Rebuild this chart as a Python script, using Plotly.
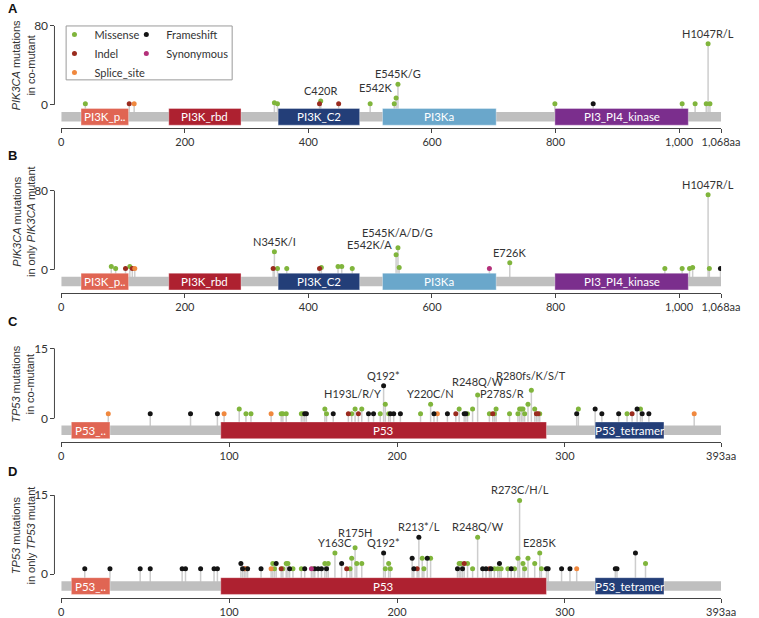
import plotly.graph_objects as go

W, H = 759, 618

# ---------------- data ----------------
PIK3CA_LENGTH = 1068
TP53_LENGTH = 393

PIK3CA_DOMAIN_NAMES = ["PI3K_p..", "PI3K_rbd", "PI3K_C2", "PI3Ka", "PI3_PI4_kinase"]
PIK3CA_DOMAIN_START = [32, 174, 351, 520, 799]
PIK3CA_DOMAIN_END = [109, 291, 483, 704, 1015]

TP53_DOMAIN_NAMES = ["P53_..", "P53", "P53_tetramer"]
TP53_DOMAIN_START = [6, 95, 318]
TP53_DOMAIN_END = [29, 289, 359]

PIK3CA_XTICKS = [0, 200, 400, 600, 800, 1000, 1068]
PIK3CA_XTICKTEXT = ["0", "200", "400", "600", "800", "1,000", "1,068aa"]
TP53_XTICKS = [0, 100, 200, 300, 393]
TP53_XTICKTEXT = ["0", "100", "200", "300", "393aa"]

MUT_TYPES = ["Missense", "Indel", "Splice_site", "Frameshift", "Synonymous"]
TYPE_CODES = {"M": "Missense", "I": "Indel", "S": "Splice_site", "F": "Frameshift", "Y": "Synonymous"}

# Panel A: PIK3CA mutations in co-mutant
A_POS = [39, 110, 118, 345, 350, 418, 420, 449, 500, 539, 542, 545, 799, 861, 1005, 1026, 1044, 1047, 1050]
A_CNT = [1, 1, 1, 2, 1, 1, 4, 1, 1, 1, 7, 21, 1, 1, 1, 1, 1, 62, 1]
A_TYPE = ["M", "I", "S", "M", "M", "I", "M", "I", "M", "M", "M", "M", "M", "F", "M", "M", "M", "M", "M"]
A_LABELS = ["C420R", "E542K", "E545K/G", "H1047R/L"]
A_LABEL_POS = [420, 542, 545, 1047]

# Panel B: PIK3CA mutations in only PIK3CA mutant
B_POS = [81, 88, 104, 111, 115, 119, 343, 345, 350, 365, 418, 421, 448, 454, 471, 542, 545, 547,
         693, 726, 977, 1005, 1017, 1022, 1047, 1049, 1067]
B_CNT = [3, 1, 1, 3, 1, 1, 1, 18, 1, 1, 1, 2, 3, 3, 1, 15, 22, 2, 1, 7, 1, 1, 1, 2, 76, 1, 1]
B_TYPE = ["M", "M", "I", "M", "I", "S", "I", "M", "M", "M", "I", "M", "M", "M", "M", "M", "M", "M",
          "Y", "M", "M", "M", "M", "M", "M", "M", "F"]
B_LABELS = ["N345K/I", "E542K/A", "E545K/A/D/G", "E726K", "H1047R/L"]
B_LABEL_POS = [345, 542, 545, 726, 1047]

# Panel C: TP53 mutations in co-mutant
C_POS = [28, 53, 77, 93, 97, 106, 110, 113, 125, 131, 132, 134, 143, 144, 145, 146, 157, 158, 162,
         171, 173, 175, 177, 179, 183, 186, 190, 192, 193, 195, 196, 198, 202, 214, 220, 222, 224,
         230, 235, 237, 240, 241, 242, 245, 248, 255, 257, 258, 259, 267, 272, 273, 274, 275, 276,
         278, 280, 282, 283, 284, 285, 307, 308, 318, 322, 332, 337, 340, 343, 345, 346, 350, 377]
C_CNT = [1, 1, 1, 1, 1, 2, 1, 1, 1, 1, 1, 1, 1, 1, 1, 1, 2, 1, 1,
         1, 1, 2, 1, 2, 1, 1, 1, 7, 3, 1, 1, 1, 1, 1, 3, 1, 1,
         1, 1, 2, 1, 1, 1, 2, 5, 1, 1, 1, 2, 1, 1, 2, 2, 2, 1,
         3, 6, 2, 1, 1, 1, 1, 2, 2, 1, 1, 1, 1, 2, 2, 1, 1, 1]
C_TYPE = ["S", "F", "F", "F", "S", "M", "M", "M", "S", "M", "M", "M", "M", "M", "F", "F", "M", "M", "F",
          "I", "M", "M", "I", "M", "F", "F", "M", "F", "M", "M", "F", "F", "F", "M", "M", "F", "S",
          "F", "I", "M", "F", "F", "M", "M", "M", "M", "I", "M", "M", "M", "M", "M", "M", "M", "M",
          "M", "M", "M", "I", "I", "M", "F", "M", "F", "F", "F", "M", "I", "F", "M", "F", "F", "S"]
C_LABELS = ["H193L/R/Y", "Q192*", "Y220C/N", "R248Q/W", "P278S/R", "R280fs/K/S/T"]
C_LABEL_POS = [193, 192, 220, 248, 278, 280]

# Panel D: TP53 mutations in only TP53 mutant
D_POS = [14, 29, 47, 53, 72, 74, 83, 91, 93, 107, 108, 109, 110, 111, 119, 125, 126, 127, 128, 131,
         132, 134, 135, 136, 138, 143, 145, 149, 150, 151, 153, 155, 157, 158, 159, 163, 167, 170,
         172, 173, 175, 176, 179, 192, 193, 195, 196, 209, 210, 212, 213, 215, 216, 218, 220, 236,
         237, 238, 239, 240, 242, 245, 248, 251, 253, 255, 256, 258, 260, 261, 262, 266, 268, 270,
         272, 273, 275, 276, 278, 282, 285, 286, 289, 290, 298, 303, 307, 330, 331, 342, 348]
D_CNT = [1, 1, 1, 1, 1, 1, 1, 1, 1, 2, 1, 1, 1, 1, 1, 1, 2, 1, 2, 1,
         1, 2, 2, 1, 1, 1, 1, 1, 1, 1, 1, 1, 2, 1, 2, 4, 2, 1,
         1, 3, 5, 2, 2, 4, 1, 2, 1, 3, 1, 1, 7, 3, 1, 3, 3, 1,
         2, 2, 1, 2, 2, 1, 7, 1, 1, 1, 1, 1, 1, 2, 1, 1, 1, 1,
         3, 14, 2, 1, 3, 2, 4, 1, 1, 1, 1, 1, 1, 1, 1, 4, 2]
D_TYPE = ["F", "F", "F", "F", "F", "F", "F", "F", "F", "F", "F", "I", "S", "F", "F", "S", "M", "M", "F", "I",
          "M", "M", "M", "F", "M", "M", "F", "Y", "M", "F", "F", "F", "M", "F", "M", "M", "F", "I",
          "M", "M", "M", "M", "M", "F", "M", "M", "M", "F", "F", "I", "F", "M", "M", "F", "M", "F",
          "M", "M", "F", "I", "M", "M", "M", "F", "F", "I", "F", "M", "M", "F", "M", "M", "F", "M",
          "M", "M", "M", "M", "M", "M", "M", "M", "F", "F", "F", "F", "S", "F", "F", "F", "M"]
D_LABELS = ["Y163C", "R175H", "Q192*", "R213*/L", "R248Q/W", "R273C/H/L", "E285K"]
D_LABEL_POS = [163, 175, 192, 213, 248, 273, 285]

# ---------------- style / layout ----------------
MUT_COLORS = {"Missense": "#80b53c", "Indel": "#9a2b1e", "Splice_site": "#f0883e",
              "Frameshift": "#141414", "Synonymous": "#b4307a"}
PIK3CA_DOMAIN_COLORS = ["#e06553", "#ae2130", "#233e78", "#6aa7cb", "#7b2e8d"]
TP53_DOMAIN_COLORS = ["#e06553", "#ae2130", "#233e78"]
STEM_COLOR = "#cdcdcd"
BAR_COLOR = "#bfbfbf"
AXIS_COLOR = "#444444"
TEXT_COLOR = "#333333"
FONT = "Lato"

PANELS = [
    dict(letter="A", pos=A_POS, cnt=A_CNT, typ=A_TYPE, labels=A_LABELS, label_pos=A_LABEL_POS,
         label_anchor=["center", "right", "center", "center"], label_extra=[0, 0, 0, 0],
         length=PIK3CA_LENGTH, dnames=PIK3CA_DOMAIN_NAMES, dstart=PIK3CA_DOMAIN_START,
         dend=PIK3CA_DOMAIN_END, dcolors=PIK3CA_DOMAIN_COLORS, xt=PIK3CA_XTICKS, xtt=PIK3CA_XTICKTEXT,
         ymax=80, zero_px=105, tick_px=26, axis_px=128.5, top_px=15, letter_px=9,
         title="<i>PIK3CA</i> mutations<br>in co-mutant", title_px=65),
    dict(letter="B", pos=B_POS, cnt=B_CNT, typ=B_TYPE, labels=B_LABELS, label_pos=B_LABEL_POS,
         label_anchor=["center", "right", "center", "center", "center"], label_extra=[0, 0, 5, 0, 0],
         length=PIK3CA_LENGTH, dnames=PIK3CA_DOMAIN_NAMES, dstart=PIK3CA_DOMAIN_START,
         dend=PIK3CA_DOMAIN_END, dcolors=PIK3CA_DOMAIN_COLORS, xt=PIK3CA_XTICKS, xtt=PIK3CA_XTICKTEXT,
         ymax=80, zero_px=270, tick_px=191, axis_px=293.5, top_px=178, letter_px=156,
         title="<i>PIK3CA</i> mutations<br>in only <i>PIK3CA</i> mutant", title_px=222),
    dict(letter="C", pos=C_POS, cnt=C_CNT, typ=C_TYPE, labels=C_LABELS, label_pos=C_LABEL_POS,
         label_anchor=["right", "center", "center", "center", "right", "center"],
         label_extra=[0, 0, 0, 3, 0, 4],
         length=TP53_LENGTH, dnames=TP53_DOMAIN_NAMES, dstart=TP53_DOMAIN_START,
         dend=TP53_DOMAIN_END, dcolors=TP53_DOMAIN_COLORS, xt=TP53_XTICKS, xtt=TP53_XTICKTEXT,
         ymax=15, zero_px=419, tick_px=349, axis_px=442.5, top_px=330, letter_px=322,
         title="<i>TP53</i> mutations<br>in co-mutant", title_px=384),
    dict(letter="D", pos=D_POS, cnt=D_CNT, typ=D_TYPE, labels=D_LABELS, label_pos=D_LABEL_POS,
         label_anchor=["center"] * 7, label_extra=[0, 5, 0, 0, 0, 0, 0],
         length=TP53_LENGTH, dnames=TP53_DOMAIN_NAMES, dstart=TP53_DOMAIN_START,
         dend=TP53_DOMAIN_END, dcolors=TP53_DOMAIN_COLORS, xt=TP53_XTICKS, xtt=TP53_XTICKTEXT,
         ymax=15, zero_px=575, tick_px=496, axis_px=598.5, top_px=482, letter_px=472,
         title="<i>TP53</i> mutations<br>in only <i>TP53</i> mutant", title_px=536),
]

X_LEFT_PX, X_RIGHT_PX, YAXIS_PX = 60, 739.5, 53

fig = go.Figure()
shapes, annotations = [], []
layout_axes = {}
legend_shown = set()

for i, p in enumerate(PANELS):
    n = i + 1
    xref = "x" if n == 1 else f"x{n}"
    yref = "y" if n == 1 else f"y{n}"
    xkey = "xaxis" if n == 1 else f"xaxis{n}"
    ykey = "yaxis" if n == 1 else f"yaxis{n}"

    scale = (p["zero_px"] - p["tick_px"]) / p["ymax"]  # px per count
    ylo = -(p["axis_px"] - p["zero_px"]) / scale
    yhi = (p["zero_px"] - p["top_px"]) / scale
    bar_c = -12.0 / scale
    bar_h = 4.8 / scale
    dom_h = 8.4 / scale

    layout_axes[xkey] = dict(
        domain=[X_LEFT_PX / W, X_RIGHT_PX / W], range=[0, p["length"]], anchor=yref,
        showline=True, linecolor=AXIS_COLOR, linewidth=1, ticks="outside", ticklen=4,
        tickcolor=AXIS_COLOR, tickvals=p["xt"], ticktext=p["xtt"], tickangle=0,
        showgrid=False, zeroline=False, tickfont=dict(family=FONT, size=11, color=TEXT_COLOR),
    )
    layout_axes[ykey] = dict(
        domain=[1 - p["axis_px"] / H, 1 - p["top_px"] / H], range=[ylo, yhi],
        anchor="free", position=YAXIS_PX / W,
        showline=False, showgrid=False, zeroline=False, ticks="outside", ticklen=4,
        tickcolor=AXIS_COLOR, tickvals=[0, p["ymax"]], ticktext=[str(0), str(p["ymax"])],
        tickfont=dict(family=FONT, size=12, color=TEXT_COLOR),
    )

    shapes.append(dict(type="line", xref="paper", yref=yref, x0=YAXIS_PX / W, x1=YAXIS_PX / W,
                       y0=0, y1=p["ymax"], line=dict(color=AXIS_COLOR, width=1)))
    shapes.append(dict(type="rect", xref=xref, yref=yref, x0=0, x1=p["length"],
                       y0=bar_c - bar_h, y1=bar_c + bar_h, fillcolor=BAR_COLOR,
                       line=dict(width=0), layer="above"))
    for name, s, e, col in zip(p["dnames"], p["dstart"], p["dend"], p["dcolors"]):
        shapes.append(dict(type="rect", xref=xref, yref=yref, x0=s, x1=e,
                           y0=bar_c - dom_h, y1=bar_c + dom_h, fillcolor=col,
                           line=dict(width=0.6, color="rgba(255,255,255,0.6)"), layer="above"))
        annotations.append(dict(x=(s + e) / 2, y=bar_c, xref=xref, yref=yref, text=name,
                                showarrow=False, font=dict(family=FONT, size=11.5, color="white"),
                                xanchor="center", yanchor="middle"))

    sx, sy = [], []
    for x, c in zip(p["pos"], p["cnt"]):
        sx += [x, x, None]
        sy += [bar_c, c, None]
    fig.add_trace(go.Scatter(x=sx, y=sy, mode="lines", xaxis=xref, yaxis=yref,
                             line=dict(color=STEM_COLOR, width=1.5), hoverinfo="skip",
                             showlegend=False))

    for rank, t in enumerate(MUT_TYPES):
        xs = [x for x, tc in zip(p["pos"], p["typ"]) if TYPE_CODES[tc] == t]
        ys = [c for c, tc in zip(p["cnt"], p["typ"]) if TYPE_CODES[tc] == t]
        if not xs:
            continue
        show = t not in legend_shown
        legend_shown.add(t)
        fig.add_trace(go.Scatter(
            x=xs, y=ys, mode="markers", xaxis=xref, yaxis=yref, name=t, legendgroup=t,
            legend="legend" if rank < 3 else "legend2", legendrank=rank + 1,
            showlegend=show, marker=dict(color=MUT_COLORS[t], size=5, line=dict(width=0)),
        ))

    for text, lp, anc, extra in zip(p["labels"], p["label_pos"], p["label_anchor"], p["label_extra"]):
        yv = max(c for x, c in zip(p["pos"], p["cnt"]) if x == lp)
        annotations.append(dict(
            x=lp, y=yv, xref=xref, yref=yref, text=text, showarrow=False,
            xanchor=anc, yanchor="bottom", xshift=(-2 if anc == "right" else 0), yshift=2 + extra,
            font=dict(family=FONT, size=11, color=TEXT_COLOR)))

    annotations.append(dict(x=3 / W, y=1 - p["letter_px"] / H, xref="paper", yref="paper",
                            text="<b>%s</b>" % p["letter"], showarrow=False, xanchor="left",
                            yanchor="middle", font=dict(family="Liberation Sans", size=13, color="#111")))
    annotations.append(dict(x=21 / W, y=1 - p["title_px"] / H, xref="paper", yref="paper",
                            text=p["title"], showarrow=False, textangle=-90, xanchor="center",
                            yanchor="middle", align="center",
                            font=dict(family="Liberation Sans", size=11, color=TEXT_COLOR)))

shapes.append(dict(type="rect", xref="paper", yref="paper", x0=65 / W, x1=236 / W,
                   y0=1 - 80 / H, y1=1 - 26 / H, fillcolor="white",
                   line=dict(color="#9a9a9a", width=1), layer="below"))

fig.update_layout(
    width=W, height=H, margin=dict(l=0, r=0, t=0, b=0),
    paper_bgcolor="white", plot_bgcolor="rgba(0,0,0,0)",
    shapes=shapes, annotations=annotations,
    font=dict(family=FONT, color=TEXT_COLOR),
    legend=dict(x=53 / W, y=1 - 20 / H, xanchor="left", yanchor="top", bgcolor="rgba(0,0,0,0)",
                borderwidth=0, font=dict(family=FONT, size=11, color=TEXT_COLOR), tracegroupgap=0),
    legend2=dict(x=127 / W, y=1 - 20 / H, xanchor="left", yanchor="top", bgcolor="rgba(0,0,0,0)",
                 borderwidth=0, font=dict(family=FONT, size=11, color=TEXT_COLOR), tracegroupgap=0),
    **layout_axes,
)

fig.write_html("out.html", config={"displayModeBar": False},
               post_script="document.body.style.margin='0';document.body.style.overflow='hidden';")
